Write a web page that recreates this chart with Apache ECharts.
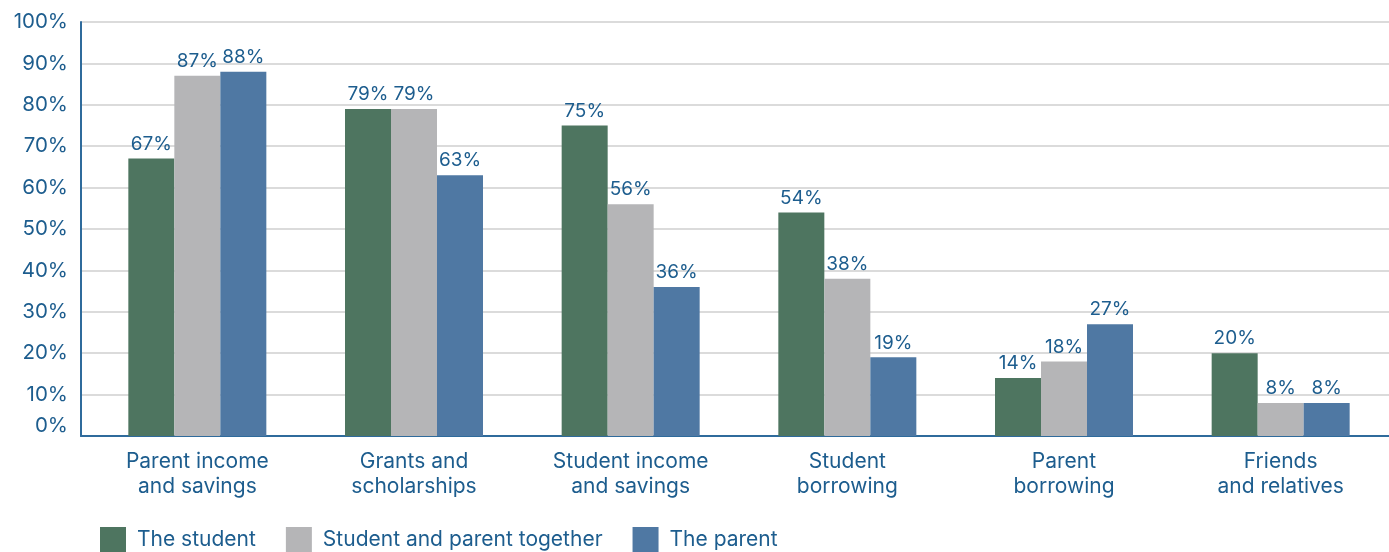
<!DOCTYPE html>
<html>
<head>
<meta charset="utf-8">
<script src="https://cdn.jsdelivr.net/npm/echarts@6/dist/echarts.min.js"></script>
<style>
  html, body { margin: 0; padding: 0; background: #ffffff; }
  #chart { width: 1389px; height: 552px; }
</style>
</head>
<body>
<div id="chart"></div>
<script>
// Sources used to pay for college, by who pays
const categories = [
  'Parent income\nand savings',
  'Grants and\nscholarships',
  'Student income\nand savings',
  'Student\nborrowing',
  'Parent\nborrowing',
  'Friends\nand relatives'
];
const seriesNames = ['The student', 'Student and parent together', 'The parent'];
const studentValues  = [67, 79, 75, 54, 14, 20];
const togetherValues = [87, 79, 56, 38, 18, 8];
const parentValues   = [88, 63, 36, 19, 27, 8];
const yTicks = [0, 10, 20, 30, 40, 50, 60, 70, 80, 90, 100];

const colors = ['#4e7560', '#b5b5b7', '#4f78a3'];
const textColor = '#1d5d8e';
const font = 'Inter';

const chart = echarts.init(document.getElementById('chart'), null, { renderer: 'canvas' });

function barSeries(name, data, color) {
  return {
    name: name,
    type: 'bar',
    xAxisIndex: 1,
    yAxisIndex: 1,
    data: data,
    barWidth: 46,
    barGap: '0%',
    itemStyle: { color: color },
    label: {
      show: true,
      position: 'top',
      distance: 5,
      formatter: '{c}%',
      color: textColor,
      fontFamily: font,
      fontSize: 19
    }
  };
}

chart.setOption({
  animation: false,
  color: colors,
  grid: [
    // frame: axis lines, gridlines and percentage labels
    { left: 81, right: 0, top: 22, bottom: 116 },
    // bars and category labels
    { left: 89, right: -8, top: 22, bottom: 116 }
  ],
  legend: {
    data: seriesNames,
    left: 100,
    top: 527,
    padding: 0,
    itemWidth: 26,
    itemHeight: 26,
    itemGap: 30,
    icon: 'rect',
    textStyle: { color: textColor, fontFamily: font, fontSize: 21, padding: [0, 0, 0, 6] }
  },
  xAxis: [
    {
      gridIndex: 0,
      type: 'value',
      min: 0,
      max: 1,
      axisLine: { show: true, onZero: false, lineStyle: { color: '#2f6b9c', width: 2 } },
      axisTick: { show: false },
      axisLabel: { show: false },
      splitLine: { show: false }
    },
    {
      gridIndex: 1,
      type: 'category',
      data: categories,
      axisLine: { show: false },
      axisTick: { show: false },
      axisLabel: {
        color: textColor,
        fontFamily: font,
        fontSize: 21,
        lineHeight: 25,
        margin: 13,
        interval: 0
      }
    }
  ],
  yAxis: [
    {
      gridIndex: 0,
      type: 'value',
      min: 0,
      max: 100,
      interval: 10,
      axisLine: { show: true, lineStyle: { color: '#2f6b9c', width: 2 } },
      axisTick: { show: false },
      splitLine: { show: true, lineStyle: { color: '#cfcfcf', width: 1.5 } },
      axisLabel: {
        margin: 13,
        color: textColor,
        fontFamily: font,
        fontSize: 20.5,
        formatter: function (v) {
          return v === yTicks[0] ? '{zero|' + v + '%}' : v + '%';
        },
        rich: {
          zero: { color: textColor, fontFamily: font, fontSize: 20.5, padding: [0, 0, 20, 0] }
        }
      }
    },
    {
      gridIndex: 1,
      type: 'value',
      min: 0,
      max: 100,
      show: false,
      splitLine: { show: false }
    }
  ],
  series: [
    barSeries(seriesNames[0], studentValues, colors[0]),
    barSeries(seriesNames[1], togetherValues, colors[1]),
    barSeries(seriesNames[2], parentValues, colors[2])
  ]
});
</script>
</body>
</html>
